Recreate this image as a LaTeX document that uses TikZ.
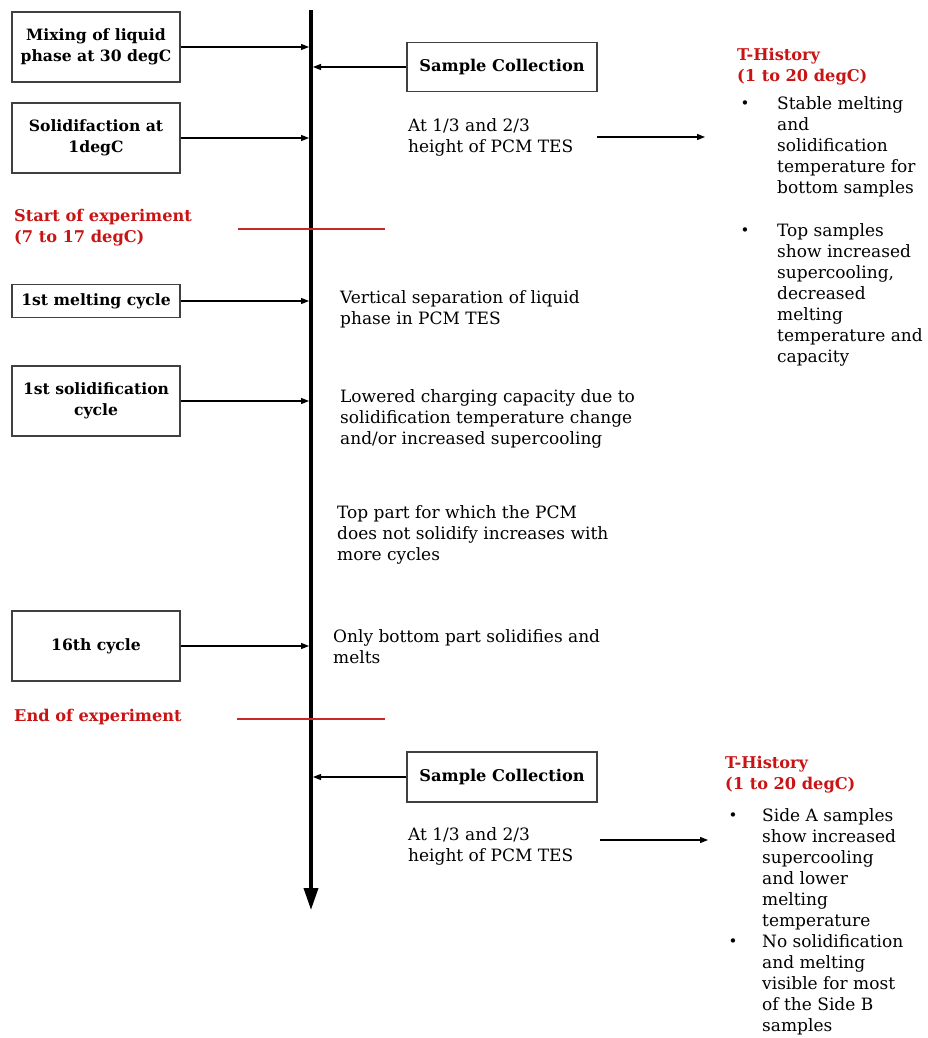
\documentclass[tikz,border=0pt]{standalone}
\usepackage{fontspec}
\setmainfont{DejaVu Serif}
\usetikzlibrary{arrows.meta}
\definecolor{dred}{RGB}{200,20,20}
\definecolor{lred}{RGB}{200,40,40}
\definecolor{bord}{RGB}{64,64,64}
\begin{document}
\begin{tikzpicture}[x=1pt,y=-1pt,
  box/.style={draw=bord,line width=1.3pt,minimum width=168pt,align=center,inner sep=0pt,
    font=\fontsize{15.6}{21}\selectfont\bfseries},
  scbox/.style={box,minimum width=190pt,minimum height=49pt,font=\fontsize{16.2}{21}\selectfont\bfseries},
  txt/.style={anchor=north west,inner sep=0pt,align=left,font=\fontsize{17}{21}\selectfont},
  redt/.style={txt,text=dred,font=\fontsize{16.2}{21}\selectfont\bfseries},
  bul/.style={inner sep=0pt,font=\fontsize{15}{21}\selectfont},
  conn/.style={line width=1.1pt,-{Triangle[length=8pt,width=6pt]}},
  redline/.style={draw=lred,line width=2.2pt}]
\useasboundingbox (0,0) rectangle (927,1038);
% main axis
\coordinate (axtop) at (311,10);
\coordinate (axbot) at (311,910);
\draw[line width=3.6pt,-{Triangle[length=22pt,width=14pt]}] (axtop) -- (axbot);
% left boxes
\node[box,minimum height=70pt] (b1) at (96,47) {Mixing of liquid\\phase at 30 degC};
\node[box,minimum height=70pt] (b2) at (96,138) {Solidifaction at\\1degC};
\node[box,minimum height=33pt] (b3) at (96,301) {1st melting cycle};
\node[box,minimum height=70pt] (b4) at (96,401) {1st solidification\\cycle};
\node[box,minimum height=70pt] (b5) at (96,646) {16th cycle};
\foreach \b in {b1,b2,b3,b4,b5}{\draw[conn,shorten >=2pt] (\b.east) -- (\b.east -| axtop);}
% red markers
\node[redt] (start) at (14,209) {Start of experiment\\(7 to 17 degC)};
\coordinate (r1a) at (238,229); \coordinate (r1b) at (385,229);
\draw[redline] (r1a) -- (r1b);
\node[redt] (end) at (14,709) {End of experiment};
\coordinate (r2a) at (237,719); \coordinate (r2b) at (385,719);
\draw[redline] (r2a) -- (r2b);
% sample collection 1
\node[scbox] (sc1) at (502,67) {Sample Collection};
\draw[conn,shorten >=2pt] (sc1.west) -- (sc1.west -| axtop);
\node[txt] (at1) at (408,118) {At 1/3 and 2/3\\height of PCM TES};
\coordinate (a1s) at (597,137); \coordinate (a1e) at (705,137);
\draw[conn] (a1s) -- (a1e);
\node[redt] (th1) at (737,48) {T-History\\(1 to 20 degC)};
\node[bul] (p1) at (745,105) {•};
\node[txt] (t1) at (777,96) {Stable melting\\and\\solidification\\temperature for\\bottom samples};
\node[bul] (p2) at (745,232) {•};
\node[txt] (t2) at (777,223) {Top samples\\show increased\\supercooling,\\decreased\\melting\\temperature and\\capacity};
% middle texts
\node[txt] (vs) at (340,290) {Vertical separation of liquid\\phase in PCM TES};
\node[txt] (lo) at (340,389) {Lowered charging capacity due to\\solidification temperature change\\and/or increased supercooling};
\node[txt] (tp) at (337,505) {Top part for which the PCM\\does not solidify increases with\\more cycles};
\node[txt] (ob) at (333,629) {Only bottom part solidifies and\\melts};
% sample collection 2
\node[scbox,minimum height=50pt] (sc2) at (502,777) {Sample Collection};
\draw[conn,shorten >=2pt] (sc2.west) -- (sc2.west -| axtop);
\node[txt] (at2) at (408,827) {At 1/3 and 2/3\\height of PCM TES};
\coordinate (a2s) at (600,840); \coordinate (a2e) at (708,840);
\draw[conn] (a2s) -- (a2e);
\node[redt] (th2) at (725,756) {T-History\\(1 to 20 degC)};
\node[bul] (p3) at (733,817) {•};
\node[txt] (t3) at (762,808) {Side A samples\\show increased\\supercooling\\and lower\\melting\\temperature};
\node[bul] (p4) at (733,943) {•};
\node[txt] (t4) at (762,934) {No solidification\\and melting\\visible for most\\of the Side B\\samples};
\end{tikzpicture}
\end{document}
